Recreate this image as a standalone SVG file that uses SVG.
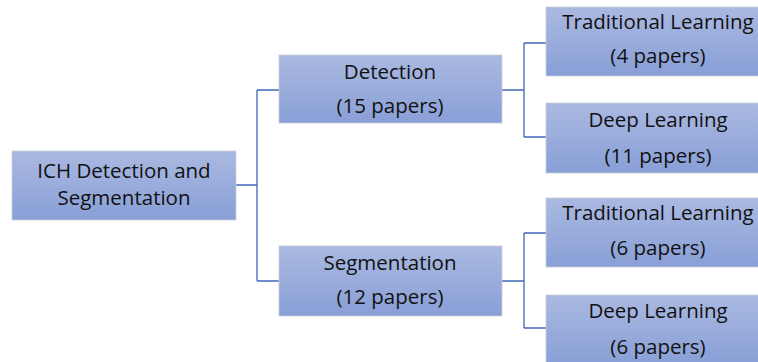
<svg xmlns="http://www.w3.org/2000/svg" width="758" height="362" viewBox="0 0 758 362">
<defs>
<linearGradient id="g" x1="0" y1="0" x2="0" y2="1">
<stop offset="0" stop-color="#aab9e1"/>
<stop offset="1" stop-color="#889fd6"/>
</linearGradient>
<style>
.box{fill:url(#g);stroke:#c8ccd6;stroke-width:0.8}
.t{font-family:"Open Sans","Liberation Sans",sans-serif;font-size:20.5px;fill:#111;text-anchor:middle}
.c{fill:none;stroke:#3f68b8;stroke-width:1.3}
</style>
</defs>
<rect width="758" height="362" fill="#fff"/>
<g id="connectors">
<path class="c" d="M236 185H257M257 90V281M257 90H279M257 281H279"/>
<path class="c" d="M502 90H524M524 43V137M524 43H546M524 137H546"/>
<path class="c" d="M502 281H524M524 233V328M524 233H546M524 328H546"/>
</g>
<g id="root"><rect class="box" x="12" y="151" width="224" height="69"/>
<text class="t" x="124" y="178">ICH Detection and</text><text class="t" x="124" y="205">Segmentation</text></g>
<g id="detection"><rect class="box" x="279" y="55" width="223" height="68"/>
<text class="t" x="390" y="79">Detection</text><text class="t" x="390" y="113">(15 papers)</text></g>
<g id="segmentation"><rect class="box" x="279" y="246" width="223" height="70"/>
<text class="t" x="390" y="270">Segmentation</text><text class="t" x="390" y="304">(12 papers)</text></g>
<g id="det-trad"><rect class="box" x="546" y="7" width="224" height="69"/>
<text class="t" x="658" y="29">Traditional Learning</text><text class="t" x="658" y="63">(4 papers)</text></g>
<g id="det-deep"><rect class="box" x="546" y="103" width="224" height="70"/>
<text class="t" x="658" y="127">Deep Learning</text><text class="t" x="658" y="163">(11 papers)</text></g>
<g id="seg-trad"><rect class="box" x="546" y="198" width="224" height="69"/>
<text class="t" x="658" y="220">Traditional Learning</text><text class="t" x="658" y="255">(6 papers)</text></g>
<g id="seg-deep"><rect class="box" x="546" y="295" width="224" height="70"/>
<text class="t" x="658" y="318">Deep Learning</text><text class="t" x="658" y="354">(6 papers)</text></g>
</svg>
